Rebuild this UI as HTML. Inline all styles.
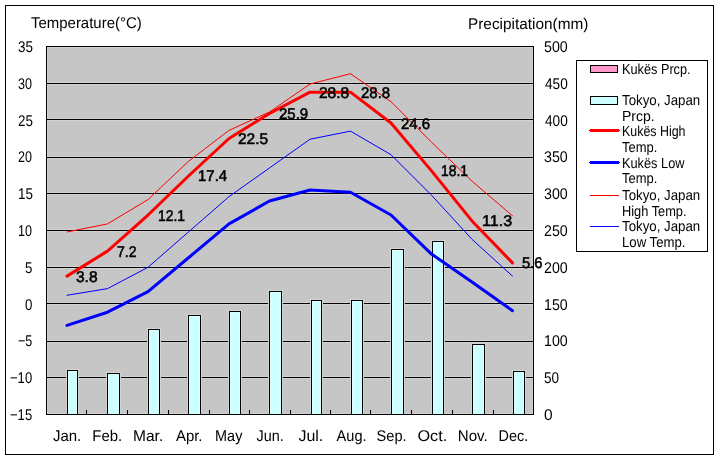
<!DOCTYPE html><html><head><meta charset="utf-8"><style>html,body{margin:0;padding:0;background:#fff;width:720px;height:460px;overflow:hidden}svg{display:block;will-change:transform}text{font-family:"Liberation Sans", sans-serif;fill:#000;text-rendering:geometricPrecision}</style></head><body>
<svg width="720" height="460" viewBox="0 0 720 460" shape-rendering="crispEdges">
<rect x="5.5" y="5.5" width="708" height="449" fill="#fff" stroke="#000"/>
<rect x="46" y="46" width="487" height="368" fill="#C6C6C6"/>
<rect x="47.5" y="47.5" width="485" height="366" fill="none" stroke="#D2D2D2"/>
<rect x="47" y="82" width="486" height="3" fill="#D2D2D2"/>
<rect x="46" y="83" width="487" height="1" fill="#000"/>
<rect x="47" y="118" width="486" height="3" fill="#D2D2D2"/>
<rect x="46" y="119" width="487" height="1" fill="#000"/>
<rect x="47" y="156" width="486" height="3" fill="#D2D2D2"/>
<rect x="46" y="157" width="487" height="1" fill="#000"/>
<rect x="47" y="192" width="486" height="3" fill="#D2D2D2"/>
<rect x="46" y="193" width="487" height="1" fill="#000"/>
<rect x="47" y="229" width="486" height="3" fill="#D2D2D2"/>
<rect x="46" y="230" width="487" height="1" fill="#000"/>
<rect x="47" y="266" width="486" height="3" fill="#D2D2D2"/>
<rect x="46" y="267" width="487" height="1" fill="#000"/>
<rect x="47" y="302" width="486" height="3" fill="#D2D2D2"/>
<rect x="46" y="303" width="487" height="1" fill="#000"/>
<rect x="47" y="340" width="486" height="3" fill="#D2D2D2"/>
<rect x="46" y="341" width="487" height="1" fill="#000"/>
<rect x="47" y="376" width="486" height="3" fill="#D2D2D2"/>
<rect x="46" y="377" width="487" height="1" fill="#000"/>
<rect x="66" y="369" width="13" height="45" fill="#D2D2D2"/>
<rect x="67" y="370" width="11" height="44" fill="#000"/>
<rect x="68" y="371" width="9" height="43" fill="#DCFFFF"/>
<rect x="69" y="372" width="7" height="42" fill="#CCFFFF"/>
<rect x="106" y="372" width="15" height="42" fill="#D2D2D2"/>
<rect x="107" y="373" width="13" height="41" fill="#000"/>
<rect x="108" y="374" width="11" height="40" fill="#DCFFFF"/>
<rect x="109" y="375" width="9" height="39" fill="#CCFFFF"/>
<rect x="147" y="328" width="14" height="86" fill="#D2D2D2"/>
<rect x="148" y="329" width="12" height="85" fill="#000"/>
<rect x="149" y="330" width="10" height="84" fill="#DCFFFF"/>
<rect x="150" y="331" width="8" height="83" fill="#CCFFFF"/>
<rect x="187" y="314" width="15" height="100" fill="#D2D2D2"/>
<rect x="188" y="315" width="13" height="99" fill="#000"/>
<rect x="189" y="316" width="11" height="98" fill="#DCFFFF"/>
<rect x="190" y="317" width="9" height="97" fill="#CCFFFF"/>
<rect x="228" y="310" width="14" height="104" fill="#D2D2D2"/>
<rect x="229" y="311" width="12" height="103" fill="#000"/>
<rect x="230" y="312" width="10" height="102" fill="#DCFFFF"/>
<rect x="231" y="313" width="8" height="101" fill="#CCFFFF"/>
<rect x="268" y="290" width="15" height="124" fill="#D2D2D2"/>
<rect x="269" y="291" width="13" height="123" fill="#000"/>
<rect x="270" y="292" width="11" height="122" fill="#DCFFFF"/>
<rect x="271" y="293" width="9" height="121" fill="#CCFFFF"/>
<rect x="310" y="299" width="13" height="115" fill="#D2D2D2"/>
<rect x="311" y="300" width="11" height="114" fill="#000"/>
<rect x="312" y="301" width="9" height="113" fill="#DCFFFF"/>
<rect x="313" y="302" width="7" height="112" fill="#CCFFFF"/>
<rect x="350" y="299" width="14" height="115" fill="#D2D2D2"/>
<rect x="351" y="300" width="12" height="114" fill="#000"/>
<rect x="352" y="301" width="10" height="113" fill="#DCFFFF"/>
<rect x="353" y="302" width="8" height="112" fill="#CCFFFF"/>
<rect x="390" y="248" width="15" height="166" fill="#D2D2D2"/>
<rect x="391" y="249" width="13" height="165" fill="#000"/>
<rect x="392" y="250" width="11" height="164" fill="#DCFFFF"/>
<rect x="393" y="251" width="9" height="163" fill="#CCFFFF"/>
<rect x="431" y="240" width="14" height="174" fill="#D2D2D2"/>
<rect x="432" y="241" width="12" height="173" fill="#000"/>
<rect x="433" y="242" width="10" height="172" fill="#DCFFFF"/>
<rect x="434" y="243" width="8" height="171" fill="#CCFFFF"/>
<rect x="471" y="343" width="15" height="71" fill="#D2D2D2"/>
<rect x="472" y="344" width="13" height="70" fill="#000"/>
<rect x="473" y="345" width="11" height="69" fill="#DCFFFF"/>
<rect x="474" y="346" width="9" height="68" fill="#CCFFFF"/>
<rect x="512" y="370" width="14" height="44" fill="#D2D2D2"/>
<rect x="513" y="371" width="12" height="43" fill="#000"/>
<rect x="514" y="372" width="10" height="42" fill="#DCFFFF"/>
<rect x="515" y="373" width="8" height="41" fill="#CCFFFF"/>
<rect x="86" y="410" width="1" height="4" fill="#000"/>
<rect x="127" y="410" width="1" height="4" fill="#000"/>
<rect x="168" y="410" width="1" height="4" fill="#000"/>
<rect x="209" y="410" width="1" height="4" fill="#000"/>
<rect x="249" y="410" width="1" height="4" fill="#000"/>
<rect x="290" y="410" width="1" height="4" fill="#000"/>
<rect x="330" y="410" width="1" height="4" fill="#000"/>
<rect x="370" y="410" width="1" height="4" fill="#000"/>
<rect x="411" y="410" width="1" height="4" fill="#000"/>
<rect x="452" y="410" width="1" height="4" fill="#000"/>
<rect x="493" y="410" width="1" height="4" fill="#000"/>
<rect x="46.5" y="46.5" width="487" height="368" fill="none" stroke="#000"/>
<polyline points="67.00,231.97 107.50,223.88 148.00,199.59 188.50,161.32 229.00,130.40 269.50,112.00 310.00,84.04 350.50,73.73 391.00,101.70 431.50,142.18 472.00,181.19 512.50,215.78" fill="none" stroke="#FF0000" stroke-width="1" stroke-linejoin="round" stroke-linecap="round" shape-rendering="auto"/>
<polyline points="67.00,295.27 107.50,288.64 148.00,267.30 188.50,231.97 229.00,196.64 269.50,167.94 310.00,139.24 350.50,131.14 391.00,154.69 431.50,195.17 472.00,239.33 512.50,276.13" fill="none" stroke="#0000FF" stroke-width="1" stroke-linejoin="round" stroke-linecap="round" shape-rendering="auto"/>
<polyline points="67.00,276.13 107.50,251.11 148.00,215.04 188.50,176.04 229.00,138.50 269.50,113.48 310.00,92.13 350.50,92.13 391.00,123.04 431.50,170.88 472.00,220.93 512.50,262.88" fill="none" stroke="#FF0000" stroke-width="3" stroke-linejoin="round" stroke-linecap="round" shape-rendering="auto"/>
<polyline points="67.00,325.44 107.50,312.20 148.00,291.59 188.50,257.73 229.00,223.88 269.50,201.06 310.00,190.02 350.50,192.23 391.00,215.04 431.50,254.05 472.00,282.02 512.50,310.72" fill="none" stroke="#0000FF" stroke-width="3" stroke-linejoin="round" stroke-linecap="round" shape-rendering="auto"/>
<rect x="576.5" y="60.5" width="131" height="191" fill="#fff" stroke="#000"/>
<rect x="590.5" y="65.5" width="27" height="7" fill="#FF99CC" stroke="#000"/>
<rect x="590.5" y="96.5" width="27" height="8" fill="#CCFFFF" stroke="#000"/>
<rect x="590" y="129" width="29" height="3" fill="#FF0000"/><rect x="589" y="130" width="31" height="1" fill="#FF0000"/>
<rect x="590" y="161" width="29" height="3" fill="#0000FF"/><rect x="589" y="162" width="31" height="1" fill="#0000FF"/>
<rect x="590" y="195" width="29" height="1" fill="#FF0000"/>
<rect x="590" y="226" width="29" height="1" fill="#0000FF"/>
<text x="31.00" y="28.00" font-size="15.50" textLength="110.71" lengthAdjust="spacingAndGlyphs">Temperature(°C)</text>
<text x="468.00" y="29.00" font-size="15.50" textLength="120.43" lengthAdjust="spacingAndGlyphs">Precipitation(mm)</text>
<text x="18.00" y="52.00" font-size="15.50" textLength="14.95" lengthAdjust="spacingAndGlyphs">35</text>
<text x="18.00" y="89.00" font-size="15.50" textLength="14.02" lengthAdjust="spacingAndGlyphs">30</text>
<text x="18.00" y="126.00" font-size="15.50" textLength="14.95" lengthAdjust="spacingAndGlyphs">25</text>
<text x="18.00" y="162.00" font-size="15.50" textLength="14.02" lengthAdjust="spacingAndGlyphs">20</text>
<text x="18.00" y="199.00" font-size="15.50" textLength="14.95" lengthAdjust="spacingAndGlyphs">15</text>
<text x="18.00" y="236.00" font-size="15.50" textLength="14.02" lengthAdjust="spacingAndGlyphs">10</text>
<text x="25.00" y="273.00" font-size="15.50" textLength="7.39" lengthAdjust="spacingAndGlyphs">5</text>
<text x="25.00" y="310.00" font-size="15.50" textLength="7.39" lengthAdjust="spacingAndGlyphs">0</text>
<text x="18.00" y="346.00" font-size="15.50" textLength="14.37" lengthAdjust="spacingAndGlyphs">−5</text>
<text x="10.00" y="383.00" font-size="15.50" textLength="22.14" lengthAdjust="spacingAndGlyphs">−10</text>
<text x="10.00" y="420.00" font-size="15.50" textLength="22.14" lengthAdjust="spacingAndGlyphs">−15</text>
<text x="544.00" y="52.00" font-size="15.50" textLength="23.72" lengthAdjust="spacingAndGlyphs">500</text>
<text x="545.00" y="89.00" font-size="15.50" textLength="22.77" lengthAdjust="spacingAndGlyphs">450</text>
<text x="545.00" y="126.00" font-size="15.50" textLength="22.77" lengthAdjust="spacingAndGlyphs">400</text>
<text x="544.00" y="162.00" font-size="15.50" textLength="23.72" lengthAdjust="spacingAndGlyphs">350</text>
<text x="544.00" y="199.00" font-size="15.50" textLength="23.72" lengthAdjust="spacingAndGlyphs">300</text>
<text x="544.00" y="236.00" font-size="15.50" textLength="23.72" lengthAdjust="spacingAndGlyphs">250</text>
<text x="544.00" y="273.00" font-size="15.50" textLength="23.72" lengthAdjust="spacingAndGlyphs">200</text>
<text x="544.00" y="310.00" font-size="15.50" textLength="23.72" lengthAdjust="spacingAndGlyphs">150</text>
<text x="544.00" y="346.00" font-size="15.50" textLength="23.72" lengthAdjust="spacingAndGlyphs">100</text>
<text x="544.00" y="383.00" font-size="15.50" textLength="15.09" lengthAdjust="spacingAndGlyphs">50</text>
<text x="544.00" y="420.00" font-size="15.50" textLength="8.62" lengthAdjust="spacingAndGlyphs">0</text>
<text x="52.95" y="441.00" font-size="15.50" textLength="28.31" lengthAdjust="spacingAndGlyphs">Jan.</text>
<text x="92.36" y="441.00" font-size="15.50" textLength="29.91" lengthAdjust="spacingAndGlyphs">Feb.</text>
<text x="133.04" y="441.00" font-size="15.50" textLength="30.18" lengthAdjust="spacingAndGlyphs">Mar.</text>
<text x="175.95" y="441.00" font-size="15.50" textLength="26.58" lengthAdjust="spacingAndGlyphs">Apr.</text>
<text x="215.11" y="441.00" font-size="15.50" textLength="27.25" lengthAdjust="spacingAndGlyphs">May</text>
<text x="256.54" y="441.00" font-size="15.50" textLength="27.26" lengthAdjust="spacingAndGlyphs">Jun.</text>
<text x="298.45" y="441.00" font-size="15.50" textLength="24.86" lengthAdjust="spacingAndGlyphs">Jul.</text>
<text x="336.61" y="441.00" font-size="15.50" textLength="29.99" lengthAdjust="spacingAndGlyphs">Aug.</text>
<text x="376.54" y="441.00" font-size="15.50" textLength="30.03" lengthAdjust="spacingAndGlyphs">Sep.</text>
<text x="417.45" y="441.00" font-size="15.50" textLength="29.82" lengthAdjust="spacingAndGlyphs">Oct.</text>
<text x="457.85" y="441.00" font-size="15.50" textLength="29.87" lengthAdjust="spacingAndGlyphs">Nov.</text>
<text x="498.51" y="441.00" font-size="15.50" textLength="29.68" lengthAdjust="spacingAndGlyphs">Dec.</text>
<text x="76.00" y="282.00" font-size="15.50" stroke="#000" stroke-width="0.55" textLength="21.56" lengthAdjust="spacingAndGlyphs">3.8</text>
<text x="117.00" y="257.00" font-size="15.50" stroke="#000" stroke-width="0.55" textLength="19.51" lengthAdjust="spacingAndGlyphs">7.2</text>
<text x="158.00" y="221.00" font-size="15.50" stroke="#000" stroke-width="0.55" textLength="27.05" lengthAdjust="spacingAndGlyphs">12.1</text>
<text x="198.00" y="181.00" font-size="15.50" stroke="#000" stroke-width="0.55" textLength="29.13" lengthAdjust="spacingAndGlyphs">17.4</text>
<text x="238.00" y="144.00" font-size="15.50" stroke="#000" stroke-width="0.55" textLength="30.17" lengthAdjust="spacingAndGlyphs">22.5</text>
<text x="279.00" y="119.00" font-size="15.50" stroke="#000" stroke-width="0.55" textLength="29.17" lengthAdjust="spacingAndGlyphs">25.9</text>
<text x="319.00" y="98.00" font-size="15.50" stroke="#000" stroke-width="0.55" textLength="30.17" lengthAdjust="spacingAndGlyphs">28.8</text>
<text x="361.00" y="98.00" font-size="15.50" stroke="#000" stroke-width="0.55" textLength="29.17" lengthAdjust="spacingAndGlyphs">28.8</text>
<text x="401.00" y="129.00" font-size="15.50" stroke="#000" stroke-width="0.55" textLength="29.17" lengthAdjust="spacingAndGlyphs">24.6</text>
<text x="441.00" y="176.00" font-size="15.50" stroke="#000" stroke-width="0.55" textLength="27.05" lengthAdjust="spacingAndGlyphs">18.1</text>
<text x="482.00" y="226.00" font-size="15.50" stroke="#000" stroke-width="0.55" textLength="30.07" lengthAdjust="spacingAndGlyphs">11.3</text>
<text x="522.00" y="268.00" font-size="15.50" stroke="#000" stroke-width="0.55" textLength="20.54" lengthAdjust="spacingAndGlyphs">5.6</text>
<text x="622.00" y="74.00" font-size="14.50" textLength="68.59" lengthAdjust="spacingAndGlyphs">Kukës Prcp.</text>
<text x="622.00" y="105.00" font-size="14.50" textLength="78.26" lengthAdjust="spacingAndGlyphs">Tokyo, Japan</text>
<text x="622.00" y="121.00" font-size="14.50" textLength="32.75" lengthAdjust="spacingAndGlyphs">Prcp.</text>
<text x="622.00" y="136.00" font-size="14.50" textLength="63.50" lengthAdjust="spacingAndGlyphs">Kukës High</text>
<text x="622.00" y="152.00" font-size="14.50" textLength="35.34" lengthAdjust="spacingAndGlyphs">Temp.</text>
<text x="622.00" y="168.00" font-size="14.50" textLength="62.49" lengthAdjust="spacingAndGlyphs">Kukës Low</text>
<text x="622.00" y="183.00" font-size="14.50" textLength="35.34" lengthAdjust="spacingAndGlyphs">Temp.</text>
<text x="622.00" y="200.00" font-size="14.50" textLength="78.26" lengthAdjust="spacingAndGlyphs">Tokyo, Japan</text>
<text x="622.00" y="216.00" font-size="14.50" textLength="64.56" lengthAdjust="spacingAndGlyphs">High Temp.</text>
<text x="622.00" y="231.00" font-size="14.50" textLength="78.26" lengthAdjust="spacingAndGlyphs">Tokyo, Japan</text>
<text x="622.00" y="247.00" font-size="14.50" textLength="63.46" lengthAdjust="spacingAndGlyphs">Low Temp.</text>
</svg></body></html>
